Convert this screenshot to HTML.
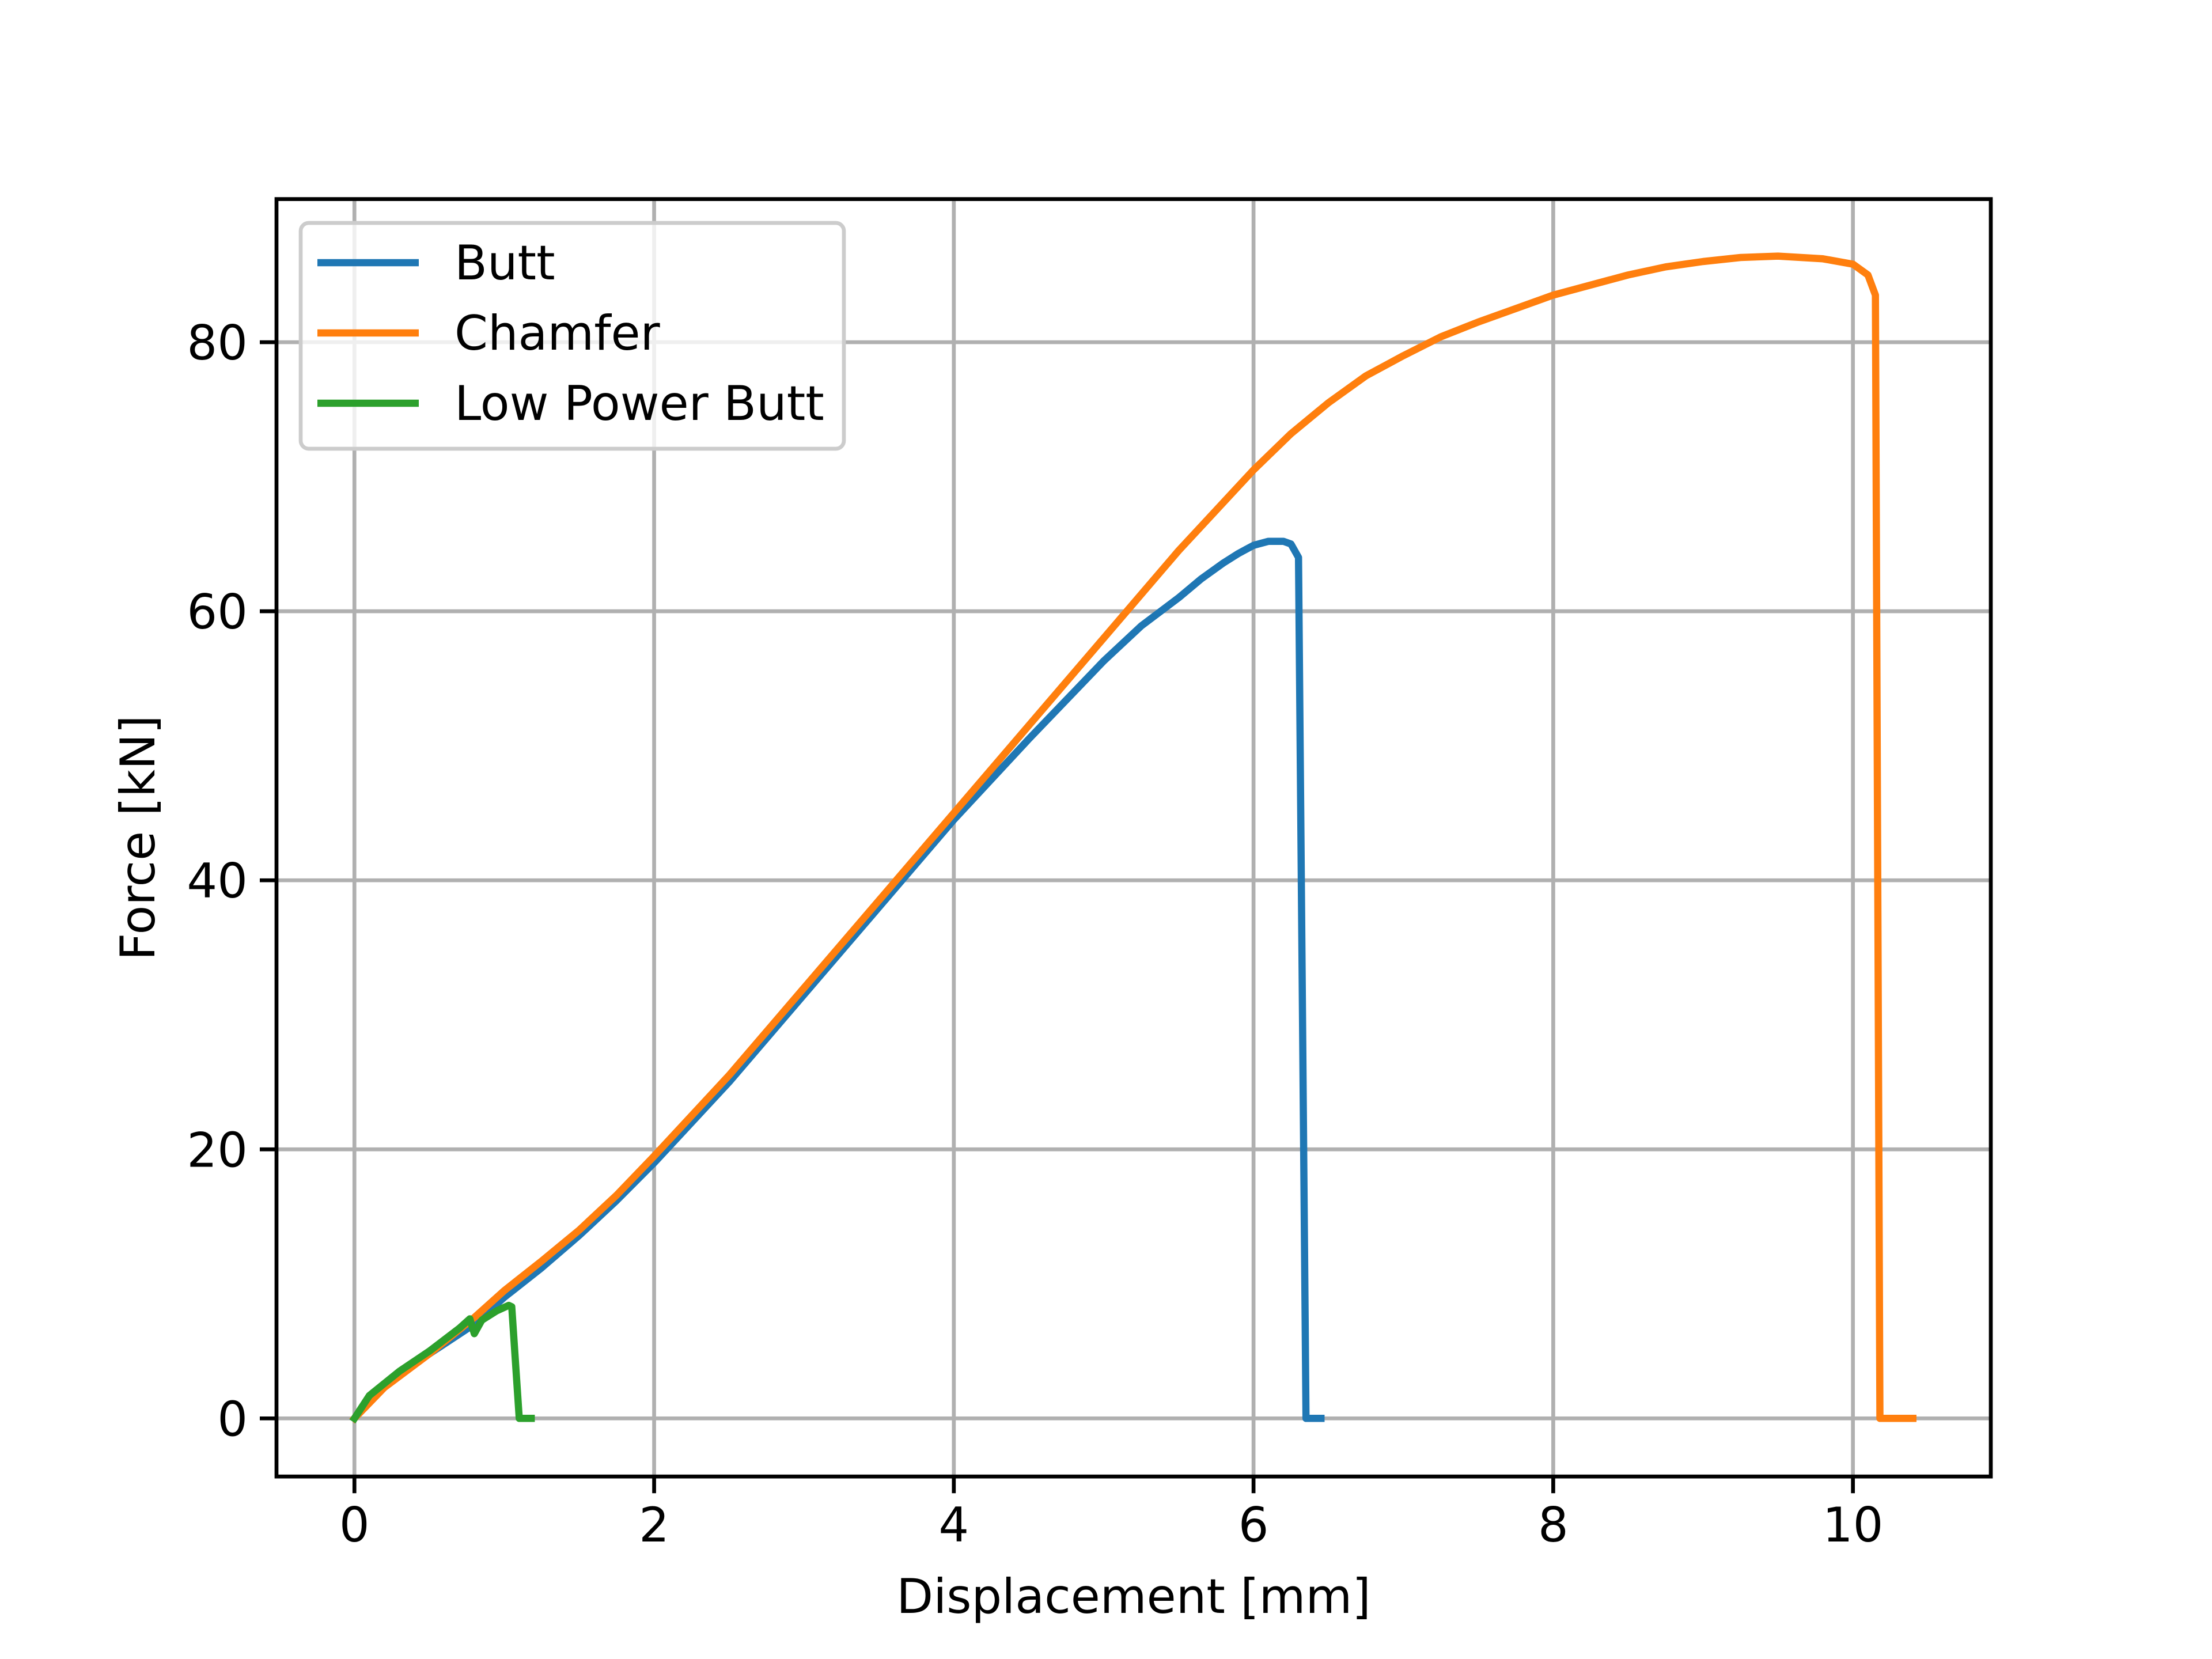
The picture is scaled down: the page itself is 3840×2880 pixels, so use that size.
<!DOCTYPE html>
<html><head><meta charset="utf-8"><style>
html,body{margin:0;padding:0;background:#fff;}
svg{display:block;font-family:"DejaVu Sans","Liberation Sans",sans-serif;}
</style></head><body>
<svg id="chart" width="3840" height="2880" viewBox="0 0 3840 2880" xmlns="http://www.w3.org/2000/svg">
<rect width="3840" height="2880" fill="#fff"/>
<g id="grid"></g><g id="series"></g><g id="axes"></g><g id="legend"></g>
</svg>
<script>
const xTicks=[0,2,4,6,8,10];
const yTicks=[0,20,40,60,80];
const seriesNames=["Butt","Chamfer","Low Power Butt"];
const seriesColors=["#1f77b4","#ff7f0e","#2ca02c"];
const buttX=[0,0.1,0.2,0.5,0.8,1,1.25,1.5,1.75,2,2.5,3,3.5,4,4.5,5,5.25,5.5,5.65,5.8,5.9,6,6.1,6.2,6.25,6.3,6.35,6.45];
const buttY=[0,1.5,2.5,4.8,7,9,11.2,13.6,16.2,19,25,31.5,38,44.5,50.5,56.3,58.9,61,62.4,63.6,64.3,64.9,65.2,65.2,65,64,0,0];
const chamX=[0,0.2,0.5,0.8,1,1.25,1.5,1.75,2,2.5,3,3.5,4,4.5,5,5.5,6,6.25,6.5,6.75,7,7.25,7.5,8,8.5,8.75,9,9.25,9.5,9.8,10,10.1,10.15,10.18,10.4];
const chamY=[0,2.3,4.8,7.5,9.5,11.7,14,16.6,19.5,25.5,32,38.5,45,51.5,58,64.5,70.5,73.2,75.5,77.5,79,80.4,81.5,83.5,85,85.6,86,86.3,86.4,86.2,85.8,85,83.5,0,0];
const lowX=[0,0.1,0.3,0.5,0.7,0.77,0.8,0.85,0.95,1.03,1.05,1.1,1.18];
const lowY=[0,1.7,3.5,5,6.7,7.4,6.3,7.3,8,8.4,8.3,0,0];

const L=480,R=3456,T=345.6,B=2563.2;
const xmin=-0.52,xmax=10.92,ymin=-4.32,ymax=90.64;
const sx=v=>L+(v-xmin)/(xmax-xmin)*(R-L);
const sy=v=>B-(v-ymin)/(ymax-ymin)*(B-T);
const NS="http://www.w3.org/2000/svg";
function mk(tag,attrs,parent){const e=document.createElementNS(NS,tag);for(const k in attrs)e.setAttribute(k,attrs[k]);parent.appendChild(e);return e;}
const grid=document.getElementById('grid'),axes=document.getElementById('axes'),ser=document.getElementById('series'),leg=document.getElementById('legend');
xTicks.forEach(t=>{
 const g=mk('line',{x1:sx(t),x2:sx(t),y1:T,y2:B,stroke:'#b0b0b0','stroke-width':6.7},grid);
 
 
 mk('line',{x1:sx(t),x2:sx(t),y1:B,y2:B+29,stroke:'#000','stroke-width':6.7},axes);
 const tx=mk('text',{x:sx(t),y:B+113,'font-size':83,'text-anchor':'middle'},axes);tx.textContent=t;
 
 
});
yTicks.forEach(t=>{
 const g=mk('line',{x1:L,x2:R,y1:sy(t),y2:sy(t),stroke:'#b0b0b0','stroke-width':6.7},grid);
 
 
 mk('line',{x1:L-29,x2:L,y1:sy(t),y2:sy(t),stroke:'#000','stroke-width':6.7},axes);
 const tx=mk('text',{x:L-50,y:sy(t)+30,'font-size':83,'text-anchor':'end'},axes);tx.textContent=t;
 
 
});
const data=[[buttX,buttY],[chamX,chamY],[lowX,lowY]];
const snames=['butt-line','chamfer-line','low-power-butt-line'];
data.forEach((d,i)=>{
 const pts=d[0].map((x,j)=>sx(x).toFixed(1)+','+sy(d[1][j]).toFixed(1)).join(' ');
 const p=mk('polyline',{points:pts,fill:'none',stroke:seriesColors[i],'stroke-width':12.5,'stroke-linejoin':'round','stroke-linecap':'square'},ser);
 
 
});
const fr=mk('rect',{x:L,y:T,width:R-L,height:B-T,fill:'none',stroke:'#000','stroke-width':6.7},axes);


const xl=mk('text',{x:(L+R)/2,y:2800,'font-size':83,'text-anchor':'middle'},axes);xl.textContent='Displacement [mm]';


const yl=mk('text',{x:0,y:0,'font-size':83,'text-anchor':'middle',transform:'translate(268,'+((T+B)/2)+') rotate(-90)'},axes);yl.textContent='Force [kN]';


const lb=mk('rect',{x:522,y:387,width:943,height:392,rx:14,fill:'#fff','fill-opacity':0.8,stroke:'#cccccc','stroke-width':6.7},leg);


seriesNames.forEach((n,i)=>{
 const y=456+i*122;
 const ln=mk('line',{x1:551,x2:727,y1:y,y2:y,stroke:seriesColors[i],'stroke-width':12.5},leg);
 
 
 const t=mk('text',{x:789,y:y+29,'font-size':83},leg);t.textContent=n;
 
 
});
</script>
</body></html>
